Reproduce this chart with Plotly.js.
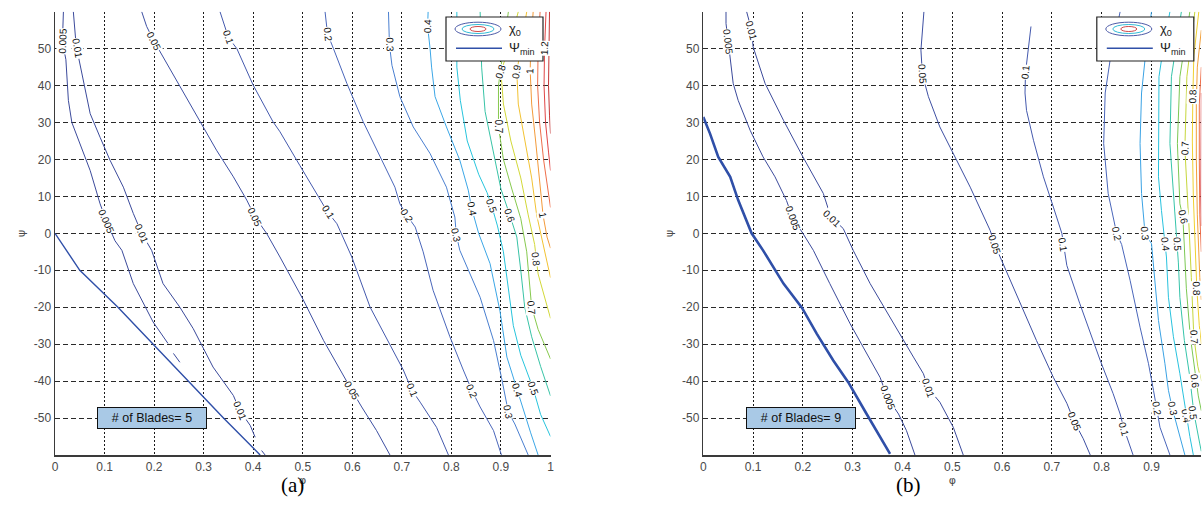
<!DOCTYPE html>
<html><head><meta charset="utf-8">
<script src="https://cdn.plot.ly/plotly-3.0.1.min.js"></script>
<style>html,body{margin:0;padding:0;background:#fff}#chart{width:1202px;height:515px}</style>
</head><body><div id="chart"></div>
<script>
// ---------- ticks ----------
const phiTicks = [0,0.1,0.2,0.3,0.4,0.5,0.6,0.7,0.8,0.9,1];
const phiTickText = ['0','0.1','0.2','0.3','0.4','0.5','0.6','0.7','0.8','0.9','1'];
const psiTicks = [-50,-40,-30,-20,-10,0,10,20,30,40,50];
const psiTickText = ['-50','-40','-30','-20','-10','0','10','20','30','40','50'];

// ---------- panel (a): # of Blades = 5 ----------
const a_psimin = [[0,0],[0.05,-10],[0.127,-20],[0.198,-30],[0.269,-40],[0.34,-50],[0.414,-60]];
const a_c0005 = [[0.017,60],[0.016,56],[0.015,52],[0.022,47],[0.027,36],[0.034,30],[0.05,24.4],[0.071,17],[0.091,8],[0.104,3.3],[0.121,-2],[0.135,-4.6],[0.158,-13.6],[0.178,-19],[0.198,-24],[0.228,-29.8],null,[0.239,-32.5],[0.252,-34.9]];
const a_c001 = [[0.037,60],[0.042,52],[0.047,48],[0.055,43],[0.064,37],[0.071,32.4],[0.091,26],[0.111,19.8],[0.138,12.5],[0.158,5.4],[0.175,0],[0.195,-4.6],[0.218,-13.6],[0.252,-20],[0.279,-25.8],[0.299,-30.8],[0.319,-36.2],[0.36,-43.9],[0.373,-48],[0.394,-52],[0.404,-55.2],null,[0.417,-58.8],[0.424,-60]];
const a_c005 = [[0.175,60],[0.185,56],[0.2,52],[0.218,47.8],[0.252,39.6],[0.293,30.2],[0.326,22.5],[0.36,15.3],[0.387,9],[0.404,4.4],[0.427,0],[0.454,-6.4],[0.501,-18],[0.542,-29],[0.575,-37],[0.599,-42.5],[0.619,-47],[0.649,-53.4],[0.676,-60]];
const a_c01 = [[0.333,60],[0.35,53],[0.367,50],[0.4,40.1],[0.44,30.2],[0.454,27.5],[0.494,18.4],[0.535,9],[0.55,5.8],[0.569,2.6],[0.599,-6.4],[0.636,-20],[0.676,-29.9],[0.703,-37],[0.72,-42.4],[0.737,-45.7],[0.77,-52.5],[0.794,-60]];
const a_c02 = [[0.545,60],[0.55,54],[0.562,50],[0.589,40.6],[0.622,30.2],[0.656,20.7],[0.686,12.5],[0.696,8],[0.71,4.9],[0.727,1.7],[0.743,-5],[0.763,-15.4],[0.797,-28],[0.824,-37],[0.842,-42.7],[0.858,-47],[0.885,-53.4],[0.901,-60]];
const a_c03 = [[0.673,60],[0.675,51],[0.68,45.5],[0.696,37],[0.723,28.8],[0.757,21.6],[0.79,12.5],[0.807,4.4],[0.81,-0.5],[0.817,-4.6],[0.858,-17.3],[0.885,-29],[0.901,-39],[0.915,-48.4],[0.928,-51.6],[0.955,-60]];
const a_c04 = [[0.753,60],[0.752,56],[0.757,50],[0.76,45],[0.767,37],[0.79,28.8],[0.817,19.8],[0.834,11.7],[0.841,6.7],[0.855,0],[0.878,-8.2],[0.898,-21],[0.912,-33.5],[0.933,-42.5],[0.945,-48],[0.96,-54],[0.975,-60]];
const a_c05 = [[0.811,60],[0.811,45],[0.818,36],[0.832,25],[0.855,16],[0.872,11],[0.881,7.6],[0.893,2],[0.905,-5],[0.915,-15],[0.925,-25],[0.94,-33],[0.965,-42],[0.98,-49],[1.0,-55]];
const a_c06 = [[0.858,60],[0.861,45],[0.868,33],[0.885,22],[0.9,12],[0.918,4.9],[0.932,-1],[0.94,-10],[0.948,-20],[0.962,-28],[0.98,-36],[1.0,-44]];
const a_c07 = [[0.915,60],[0.905,50],[0.895,40],[0.895,28.8],[0.905,20],[0.922,12],[0.94,4],[0.952,-5],[0.962,-20],[0.975,-26],[0.99,-31],[1.0,-34]];
const a_c08 = [[0.935,60],[0.915,50],[0.9,43.7],[0.905,35],[0.92,25],[0.94,15],[0.955,5],[0.968,-3],[0.975,-11],[0.99,-18],[1.0,-23]];
const a_c09 = [[0.952,60],[0.94,50],[0.932,43.7],[0.935,35],[0.948,25],[0.962,15],[0.972,5],[0.985,-3],[0.993,-8],[1.0,-12]];
const a_c10 = [[0.965,60],[0.96,50],[0.959,44],[0.962,35],[0.97,25],[0.978,15],[0.985,4.9],[0.993,-1],[1.0,-4]];
const a_c11 = [[0.979,60],[0.975,50],[0.974,40],[0.978,30],[0.986,20],[0.994,12],[1.0,7]];
const a_c12 = [[0.991,60],[0.988,50],[0.987,40],[0.99,30],[0.996,22],[1.0,17]];
const a_c13 = [[0.998,60],[0.997,50],[0.996,40],[0.998,32],[1.0,27]];
const a_levels = [0.005,0.01,0.05,0.1,0.2,0.3,0.4,0.5,0.6,0.7,0.8,0.9,1.0,1.1,1.2,1.3];
const a_lines = [a_c0005,a_c001,a_c005,a_c01,a_c02,a_c03,a_c04,a_c05,a_c06,a_c07,a_c08,a_c09,a_c10,a_c11,a_c12,a_c13];
const a_colors = ['#3b4a9b','#3b4a9b','#3d4fa2','#4459ad','#4a66ba','#4a7fd0','#3ba6e6','#27c4dc','#38c3a6','#86c94e','#d2d838','#f2c232','#f39a3a','#ee6e4a','#e04646','#c43636'];
const a_labText = ['0.005','0.01','0.05','0.1','0.2','0.3','0.4','0.005','0.01','0.05','0.1','0.2','0.3','0.4','0.5','0.6','1','0.8','0.7','0.7','0.8','0.9','1','1.2','0.01','0.05','0.1','0.2','0.3','0.4','0.5'];
const a_labPhi  = [0.015,0.045,0.2,0.35,0.55,0.675,0.752,0.104,0.175,0.404,0.55,0.71,0.81,0.841,0.881,0.918,0.985,0.971,0.895,0.962,0.9,0.932,0.959,0.988,0.373,0.599,0.72,0.842,0.915,0.933,0.965];
const a_labPsi  = [52,50,52,53,54,51,56,3.3,0,4.4,5.8,4.9,-0.5,6.7,7.6,4.9,4.9,-7,28.8,-20,43.7,43.7,44,50,-48,-42.5,-42.4,-42.7,-48.4,-42.5,-42];

// ---------- panel (b): # of Blades = 9 ----------
const b_psimin = [[0,31.5],[0.0135,27],[0.03,20.7],[0.054,15.3],[0.07,9],[0.084,4.4],[0.097,0],[0.12,-4.6],[0.161,-13.6],[0.198,-20.1],[0.228,-27.2],[0.261,-34.4],[0.291,-40.3],[0.328,-48.9],[0.375,-59.7]];
const b_c0005 = [[0.0456,60],[0.0456,56.8],[0.05,52],[0.054,47.3],[0.06,40.6],[0.07,36],[0.094,27.9],[0.12,20.7],[0.144,15.3],[0.167,8.9],[0.18,4],[0.2,0],[0.221,-4.6],[0.254,-13.6],[0.295,-24.5],[0.321,-30.8],[0.355,-39],[0.37,-44.5],[0.392,-48.9],[0.408,-53.4],[0.425,-60]];
const b_c001 = [[0.087,60],[0.097,55],[0.1,50.5],[0.124,40.6],[0.161,30.6],[0.2,20.7],[0.241,10.8],[0.256,4.5],[0.281,1.3],[0.301,-4.6],[0.335,-13.6],[0.382,-24.5],[0.422,-33.5],[0.442,-38],[0.452,-42],[0.475,-45.7],[0.502,-52.5],[0.522,-60]];
const b_c005 = [[0.443,60],[0.439,54],[0.437,49.6],[0.44,43],[0.452,37],[0.475,28.8],[0.502,21.6],[0.536,12.5],[0.576,0.8],[0.585,-3],[0.599,-7.3],[0.636,-19],[0.669,-29],[0.703,-39],[0.73,-46],[0.745,-51],[0.763,-55.6],[0.777,-60]];
const b_c01 = [[0.658,56],[0.652,50],[0.647,43.5],[0.646,38],[0.649,33.3],[0.663,25.2],[0.683,15.3],[0.703,7.1],[0.72,0],[0.73,-8.7],[0.756,-19],[0.797,-34.4],[0.823,-43.4],[0.837,-48.9],[0.845,-53],[0.863,-60]];
const b_c02 = [[0.837,60],[0.817,47],[0.807,38],[0.804,24.3],[0.813,10.8],[0.823,4.4],[0.83,0],[0.84,-3],[0.857,-12.7],[0.877,-25.4],[0.894,-35.3],[0.904,-42.5],[0.91,-47.5],[0.917,-52.5],[0.937,-60]];
const b_c03 = [[0.9,60],[0.887,47],[0.88,38],[0.877,24.3],[0.88,10.8],[0.884,4.4],[0.887,0],[0.9,-2.8],[0.907,-12.7],[0.914,-23.6],[0.927,-35.3],[0.934,-42.5],[0.942,-47.5],[0.954,-53.4],[0.967,-60]];
const b_c04 = [[0.937,60],[0.925,51.4],[0.915,42.4],[0.914,28.8],[0.914,15.3],[0.92,6.2],[0.928,-3],[0.93,-6.4],[0.934,-17.3],[0.944,-28],[0.957,-38],[0.97,-49.5],[0.977,-55],[0.984,-60]];
const b_c05 = [[0.96,60],[0.94,42.4],[0.937,24.3],[0.944,10.8],[0.952,-3],[0.954,-8],[0.957,-17.3],[0.966,-29],[0.976,-38],[0.985,-48.5],[0.997,-57],[1.0,-59]];
const b_c06 = [[0.977,60],[0.957,42.4],[0.952,24.3],[0.957,8],[0.963,4.5],[0.966,-5],[0.97,-15],[0.978,-28],[0.988,-38],[0.994,-44],[1.0,-48]];
const b_c07 = [[0.987,60],[0.971,42.4],[0.967,23],[0.971,10.8],[0.976,0],[0.98,-12],[0.985,-28],[0.993,-36],[1.0,-40]];
const b_c08 = [[0.995,60],[0.985,48],[0.983,37],[0.982,25],[0.984,10],[0.988,-3],[0.991,-15],[0.996,-25],[1.0,-30]];
const b_c09 = [[1.0,55],[0.992,45],[0.99,35],[0.99,20],[0.992,5],[0.994,-4],[0.997,-12],[1.0,-18]];
const b_c10 = [[1.0,45],[0.996,35],[0.996,20],[0.997,5],[1.0,-5]];
const b_c11 = [[1.0,38],[0.999,25],[0.999,10],[1.0,2]];
const b_levels = [0.005,0.01,0.05,0.1,0.2,0.3,0.4,0.5,0.6,0.7,0.8,0.9,1.0,1.1];
const b_lines = [b_c0005,b_c001,b_c005,b_c01,b_c02,b_c03,b_c04,b_c05,b_c06,b_c07,b_c08,b_c09,b_c10,b_c11];
const b_colors = ['#3b4a9b','#3b4a9b','#3d4fa2','#4459ad','#4a66ba','#3aa2e4','#28c2de','#36c4aa','#7cc854','#c6d63c','#f0d030','#f2a03a','#ee6e4a','#d84040'];
const b_labText = ['0.005','0.01','0.05','0.1','0.005','0.01','0.05','0.1','0.2','0.3','0.4','0.5','0.6','0.7','0.8','0.7','0.8','0.6','0.005','0.01','0.05','0.1','0.2','0.3','0.4','0.5'];
const b_labPhi  = [0.05,0.097,0.44,0.647,0.18,0.258,0.585,0.722,0.83,0.887,0.928,0.952,0.963,0.967,0.983,0.985,0.99,0.988,0.37,0.452,0.745,0.845,0.91,0.942,0.97,0.983];
const b_labPsi  = [52,55,43,43.5,4,4,-3,-3,0,0,-3,-3,4.5,23,37,-28,-15,-40,-44.5,-42,-51,-53,-47.5,-47.5,-49.5,-48.5];

// ---------- geometry helpers (figure pixels -> paper) ----------
const W = 1202, H = 515;
const X = px => px / W;
const Y = py => 1 - py / H;
const panelA = {left: 55, right: 550.5}, panelB = {left: 703.3, right: 1201.3};
const plotTop = 11.7, plotBottom = 455;
const sy = (plotBottom - plotTop) / 120;

function labelAngle(line, phi, psi, sx) {
  let best = Infinity, ang = 0;
  for (let i = 0; i < line.length - 1; i++) {
    const p = line[i], q = line[i+1];
    if (!p || !q) continue;
    const ax = p[0]*sx, ay = -p[1]*sy, bx = q[0]*sx, by = -q[1]*sy;
    const px = phi*sx, py = -psi*sy;
    const dx = bx-ax, dy = by-ay, L = dx*dx+dy*dy;
    if (L === 0) continue;
    let t = ((px-ax)*dx + (py-ay)*dy) / L; t = Math.max(0, Math.min(1, t));
    const cx = ax+t*dx, cy = ay+t*dy, d = (px-cx)**2 + (py-cy)**2;
    if (d < best) { best = d; ang = Math.atan2(dy, dx) * 180 / Math.PI; }
  }
  if (ang > 90) ang -= 180;
  if (ang <= -90) ang += 180;
  return ang;
}

const traces = [], annotations = [], shapes = [];

function buildPanel(lines, levels, colors, psimin, psiminWidth, labText, labPhi, labPsi, xa, ya, panel) {
  const sx = panel.right - panel.left;
  lines.forEach((ln, i) => {
    traces.push({
      type: 'scatter', mode: 'lines', xaxis: xa, yaxis: ya,
      x: ln.map(p => p ? p[0] : null), y: ln.map(p => p ? p[1] : null),
      line: {color: colors[i], width: 1}, hoverinfo: 'skip', connectgaps: false
    });
  });
  traces.push({
    type: 'scatter', mode: 'lines', xaxis: xa, yaxis: ya,
    x: psimin.map(p => p[0]), y: psimin.map(p => p[1]),
    line: {color: '#2f4fa8', width: psiminWidth}, hoverinfo: 'skip'
  });
  labText.forEach((t, i) => {
    const lvl = parseFloat(t);
    const idx = levels.findIndex(v => Math.abs(v - lvl) < 1e-9);
    const ang = idx >= 0 ? labelAngle(lines[idx], labPhi[i], labPsi[i], sx) : 0;
    annotations.push({
      xref: xa, yref: ya, x: labPhi[i], y: labPsi[i], text: t, showarrow: false,
      textangle: ang, bgcolor: 'white', borderpad: 0,
      font: {family: 'Liberation Sans, Arial, sans-serif', size: 10, color: '#111'}
    });
  });
  // blades box
  annotations.push({
    xref: xa, yref: ya, x: 0.196, y: -50, showarrow: false,
    text: '# of Blades= ' + (xa === 'x' ? '5' : '9'),
    bgcolor: '#a9c9e6', bordercolor: '#111', borderwidth: 1, borderpad: 2,
    width: 104, height: 16,
    font: {family: 'Liberation Sans, Arial, sans-serif', size: 12.5, color: '#111'}
  });
  // legend box
  const R = panel.right, x0 = R - 104.5, x1 = R - 7.5, y0 = 17, y1 = 61;
  shapes.push({type: 'rect', xref: 'paper', yref: 'paper', x0: X(x0), x1: X(x1), y0: Y(y1), y1: Y(y0),
    fillcolor: 'white', line: {color: '#222', width: 1.2}, layer: 'above'});
  const cx = x0 + 32, cy = 29;
  [[23, 6.8, '#4c5aa8'], [16, 4.5, '#35bcd6'], [8, 2.5, '#d04a4a']].forEach(e => {
    shapes.push({type: 'circle', xref: 'paper', yref: 'paper', x0: X(cx - e[0]), x1: X(cx + e[0]),
      y0: Y(cy + e[1]), y1: Y(cy - e[1]), line: {color: e[2], width: 1}, layer: 'above'});
  });
  shapes.push({type: 'line', xref: 'paper', yref: 'paper', x0: X(x0 + 10), x1: X(x0 + 56), y0: Y(48.3), y1: Y(48.3),
    line: {color: '#3050a8', width: 1.5}, layer: 'above'});
  annotations.push({xref: 'paper', yref: 'paper', x: X(x0 + 61), y: Y(29), xanchor: 'left', yanchor: 'middle',
    text: 'χ<sub>0</sub>', showarrow: false, font: {family: 'Liberation Sans, Arial, sans-serif', size: 13, color: '#222'}});
  annotations.push({xref: 'paper', yref: 'paper', x: X(x0 + 61), y: Y(49), xanchor: 'left', yanchor: 'middle',
    text: 'Ψ<sub>min</sub>', showarrow: false, font: {family: 'Liberation Sans, Arial, sans-serif', size: 13, color: '#222'}});
}

buildPanel(a_lines, a_levels, a_colors, a_psimin, 1.4, a_labText, a_labPhi, a_labPsi, 'x', 'y', panelA);
buildPanel(b_lines, b_levels, b_colors, b_psimin, 2.6, b_labText, b_labPhi, b_labPsi, 'x2', 'y2', panelB);

annotations.push({xref: 'paper', yref: 'paper', x: X(279), y: Y(499), text: '(a)', showarrow: false,
  font: {family: 'Liberation Serif, Times New Roman, serif', size: 21, color: '#000'}});
annotations.push({xref: 'paper', yref: 'paper', x: X(923), y: Y(499), text: '(b)', showarrow: false,
  font: {family: 'Liberation Serif, Times New Roman, serif', size: 21, color: '#000'}});

const tickFont = {family: 'Liberation Sans, Arial, sans-serif', size: 12, color: '#4a4a4a'};
function xAxis(panel, anchor) {
  return {domain: [X(panel.left), X(panel.right)], anchor: anchor, range: [0, 1],
    tickmode: 'array', tickvals: phiTicks, ticktext: phiTickText, tickfont: tickFont,
    showgrid: true, gridcolor: '#1a1a1a', gridwidth: 1, griddash: '2px,2px',
    showline: true, linecolor: '#3a3a3a', linewidth: 1.5, zeroline: false, ticks: '',
    automargin: false, fixedrange: true,
    title: {text: 'φ', font: {family: 'DejaVu Sans, sans-serif', size: 11, color: '#4a4a4a'}, standoff: 3}};
}
function yAxis(anchor) {
  return {domain: [Y(plotBottom), Y(plotTop)], anchor: anchor, range: [-60, 60],
    tickmode: 'array', tickvals: psiTicks, ticktext: psiTickText, tickfont: tickFont,
    showgrid: true, gridcolor: '#2a2a2a', gridwidth: 1, griddash: '5px,3px',
    showline: true, linecolor: '#3a3a3a', linewidth: 1.5, zeroline: false, ticks: '',
    automargin: false, fixedrange: true,
    title: {text: 'ψ', font: {family: 'DejaVu Sans, sans-serif', size: 11, color: '#4a4a4a'}, standoff: 6}};
}

const layout = {
  width: W, height: H, margin: {l: 0, r: 0, t: 0, b: 0},
  paper_bgcolor: '#fff', plot_bgcolor: '#fff', showlegend: false,
  font: {family: 'Liberation Sans, Arial, sans-serif'},
  xaxis: xAxis(panelA, 'y'), yaxis: yAxis('x'),
  xaxis2: xAxis(panelB, 'y2'), yaxis2: yAxis('x2'),
  annotations: annotations, shapes: shapes
};

Plotly.newPlot('chart', traces, layout, {staticPlot: true, displayModeBar: false});
</script></body></html>
